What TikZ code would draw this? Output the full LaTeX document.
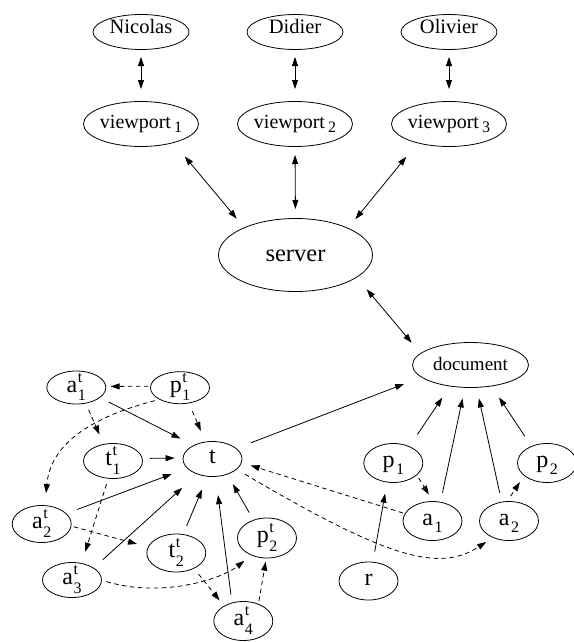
\documentclass[tikz,border=0pt]{standalone}
\usepackage{fontspec}
\setmainfont{Liberation Serif}
\usetikzlibrary{arrows.meta,shapes.geometric}
\newcommand\subsz{\fontsize{16}{16}\selectfont}
\newcommand\stk[3]{#1\kern0.5pt\raisebox{-8.5pt}{\subsz\shortstack[l]{#2\\[4.5pt]#3}}}
\newcommand\sbs[2]{#1\kern1.5pt\raisebox{-6.5pt}{\subsz #2}}
\newcommand\vpt[1]{viewport\kern3pt\raisebox{-4.5pt}{\subsz #1}}
\begin{document}
\begin{tikzpicture}[x=1pt,y=-1pt,
  ell/.style={ellipse,draw,line width=0.8pt,inner sep=0pt,outer sep=0pt},
  person/.style={ell,minimum width=96pt,minimum height=35pt,font=\fontsize{20.5}{20.5}\selectfont,text height=10pt,text depth=7pt},
  port/.style={ell,minimum width=115pt,minimum height=45pt,font=\fontsize{20}{20}\selectfont,text height=12pt,text depth=3.5pt},
  srv/.style={ell,minimum width=154pt,minimum height=73pt,font=\fontsize{24.5}{24.5}\selectfont,text height=14pt,text depth=0.6pt},
  docu/.style={ell,minimum width=116pt,minimum height=45pt,font=\fontsize{19}{19}\selectfont,text height=12pt,text depth=0.6pt},
  sm/.style={ell,minimum width=59pt,minimum height=38pt,font=\fontsize{24}{24}\selectfont,text height=12pt,text depth=3pt},
  con/.style={line width=0.8pt,-{Triangle[length=9pt,width=6pt]}},
  dcon/.style={con,dash pattern=on 4.5pt off 3.5pt},
  dbl/.style={line width=0.8pt,{Triangle[length=9pt,width=6pt]}-{Triangle[length=9pt,width=6pt]}},
]
\useasboundingbox (0,0) rectangle (573,642);
% top
\node[person] (nic) at (141,32) {\makebox[0pt]{Nicolas}};
\node[person] (did) at (295,32) {\makebox[0pt]{Didier}};
\node[person] (oli) at (449,32) {\makebox[0pt]{Olivier}};
\node[port] (v1) at (141,124) {\makebox[0pt]{\vpt{1}}};
\node[port] (v2) at (295,124) {\makebox[0pt]{\vpt{2}}};
\node[port] (v3) at (449,124) {\makebox[0pt]{\vpt{3}}};
\node[srv] (srv) at (295.5,255) {\makebox[0pt]{server}};
\node[docu] (doc) at (470.5,365) {\makebox[0pt]{document}};
% bottom left
\node[sm,minimum height=33pt] (a1t) at (76.3,387.5) {\makebox[0pt]{\stk{a}{t}{1}}};
\node[sm,minimum height=32pt] (p1t) at (180,387.7) {\makebox[0pt]{\stk{p}{t}{1}}};
\node[sm,minimum height=35pt] (t) at (212.5,459) {\makebox[0pt]{t}};
\node[sm,minimum height=35pt] (t1t) at (113,461) {\makebox[0pt]{\stk{t}{t}{1}}};
\node[sm,minimum height=37pt] (a2t) at (41.7,524) {\makebox[0pt]{\stk{a}{t}{2}}};
\node[sm] (t2t) at (176.3,553) {\makebox[0pt]{\stk{t}{t}{2}}};
\node[sm,minimum height=35pt] (a3t) at (72,580) {\makebox[0pt]{\stk{a}{t}{3}}};
\node[sm,minimum height=40pt] (p2t) at (267,538) {\makebox[0pt]{\stk{p}{t}{2}}};
\node[sm,minimum height=39pt] (a4t) at (243.3,621) {\makebox[0pt]{\stk{a}{t}{4}}};
% bottom right
\node[sm,minimum height=39pt] (p1) at (393.3,463) {\makebox[0pt]{\sbs{p}{1}}};
\node[sm,minimum height=39pt] (p2) at (547,463) {\makebox[0pt]{\sbs{p}{2}}};
\node[sm,minimum height=39pt] (a1) at (432.5,521) {\makebox[0pt]{\sbs{a}{1}}};
\node[sm,minimum height=39pt] (a2) at (509,521) {\makebox[0pt]{\sbs{a}{2}}};
\node[sm] (r) at (368.5,581) {\makebox[0pt]{r}};
% top connectors
\draw[dbl,shorten <=7.5pt,shorten >=12.5pt] (nic.south) -- (v1.north);
\draw[dbl,shorten <=7.5pt,shorten >=12.5pt] (did.south) -- (v2.north);
\draw[dbl,shorten <=7.5pt,shorten >=12.5pt] (oli.south) -- (v3.north);
\draw[dbl,shorten <=18pt,shorten >=11.8pt] (v1.-30.9) -- (srv.152.6);
\draw[dbl,shorten <=8.5pt,shorten >=9.5pt] (v2.south) -- (srv.north);
\draw[dbl,shorten <=18pt,shorten >=11.8pt] (v3.-149.1) -- (srv.27.4);
\draw[dbl,shorten <=15.7pt,shorten >=14pt] (srv.-20) -- (doc.167);
% bottom left connectors
\draw[dcon,shorten <=2.3pt,shorten >=4.9pt] (p1t.177) -- (a1t.2.5);
\draw[dcon,shorten <=9pt,shorten >=12.1pt] (p1t.-60) -- (t.112.1);
\draw[con,shorten <=9.7pt,shorten >=15.1pt] (a1t.-23.9) -- (t.144);
\draw[dcon,shorten <=7.2pt,shorten >=10.8pt] (a1t.-59.2) -- (t1t.119.5);
\draw[dcon,shorten <=5.1pt,shorten >=12.5pt] (p1t.-150.75) .. controls (80,420) and (50,450) .. (a2t.80.7);
\draw[con,shorten <=7.7pt,shorten >=8.5pt] (t1t.5.1) -- (t.178);
\draw[dcon,shorten <=6.2pt,shorten >=12.3pt] (t1t.-105.1) -- (a3t.60.7);
\draw[con,shorten <=11.9pt,shorten >=16.6pt] (a2t.23.2) -- (t.-160.7);
\draw[dcon,shorten <=2.7pt,shorten >=11.7pt] (a2t.-4.9) -- (t2t.168.6);
\draw[con,shorten <=12.5pt,shorten >=20.5pt] (a3t.29.8) -- (t.-135.5);
\draw[con,shorten <=9.4pt,shorten >=14.3pt] (t2t.70.4) -- (t.-106.5);
\draw[con,shorten <=8.4pt,shorten >=18.9pt] (a4t.122.6) -- (t.-80.8);
\draw[con,shorten <=8.8pt,shorten >=11.5pt] (p2t.127.6) -- (t.-46.2);
\draw[dcon,shorten <=7.5pt,shorten >=7.4pt] (t2t.-41.4) -- (a4t.142.3);
\draw[dcon,shorten <=3.4pt,shorten >=3.7pt] (a4t.48) -- (p2t.-92.4);
\draw[dcon,shorten <=5.2pt,shorten >=9.2pt] (a3t.0) .. controls (160,598) and (220,580) .. (p2t.-132.9);
% right connectors
\draw[con,shorten <=15.9pt,shorten >=18.9pt] (t.24.8) -- (doc.-166);
\draw[dcon,shorten <=2.3pt,shorten >=9.7pt] (a1.165.2) -- (t.-7.5);
\draw[dcon,shorten <=9.9pt,shorten >=8.3pt] (t.-23.7) .. controls (390,560) and (440,572) .. (a2.-134.2);
\draw[dcon,shorten <=3.8pt,shorten >=8.2pt] (p1.-27.2) -- (a1.88.3);
\draw[con,shorten <=14.7pt,shorten >=14pt] (p1.46.1) -- (doc.-134.5);
\draw[con,shorten <=9.7pt,shorten >=11.3pt] (a1.67.5) -- (doc.-104.8);
\draw[con,shorten <=9.5pt,shorten >=11.3pt] (a2.111.1) -- (doc.-75.2);
\draw[con,shorten <=12.3pt,shorten >=13.7pt] (p2.133.8) -- (doc.-45.7);
\draw[dcon,shorten <=6.6pt,shorten >=8pt] (a2.96.6) -- (p2.-151.7);
\draw[con,shorten <=10.7pt,shorten >=11.8pt] (r.77.5) -- (p1.-108.3);
\end{tikzpicture}
\end{document}
